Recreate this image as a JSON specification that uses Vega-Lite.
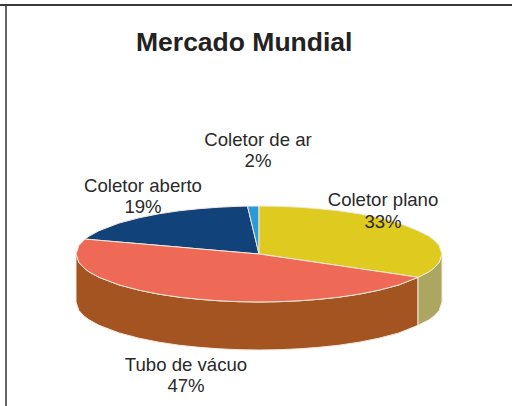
{"$schema":"https://vega.github.io/schema/vega-lite/v6.json","width":512,"height":406,"padding":0,"autosize":{"type":"none"},"background":"white","view":{"stroke":null},
"title":{"text":"Mercado Mundial","font":"Liberation Sans","fontSize":26.5,"fontWeight":"bold","color":"#222222","anchor":"start","frame":"group","offset":0,"dx":136,"dy":77,"baseline":"alphabetic"},
"datasets":{
"outline":[
{"part":"Parede tubo","x":76,"top":254,"bottom":302},{"part":"Parede tubo","x":79,"top":262.7,"bottom":310.7},{"part":"Parede tubo","x":84,"top":268,"bottom":316},{"part":"Parede tubo","x":89,"top":271.8,"bottom":319.8},{"part":"Parede tubo","x":99,"top":277.3,"bottom":325.3},{"part":"Parede tubo","x":119,"top":284.9,"bottom":332.9},{"part":"Parede tubo","x":139,"top":290.2,"bottom":338.2},{"part":"Parede tubo","x":159,"top":294.2,"bottom":342.2},{"part":"Parede tubo","x":179,"top":297.2,"bottom":345.2},{"part":"Parede tubo","x":199,"top":299.3,"bottom":347.3},{"part":"Parede tubo","x":219,"top":300.8,"bottom":348.8},{"part":"Parede tubo","x":239,"top":301.7,"bottom":349.7},{"part":"Parede tubo","x":259,"top":302,"bottom":350},{"part":"Parede tubo","x":279,"top":301.7,"bottom":349.7},{"part":"Parede tubo","x":299,"top":300.8,"bottom":348.8},{"part":"Parede tubo","x":319,"top":299.3,"bottom":347.3},{"part":"Parede tubo","x":339,"top":297.2,"bottom":345.2},{"part":"Parede tubo","x":359,"top":294.2,"bottom":342.2},{"part":"Parede tubo","x":379,"top":290.2,"bottom":338.2},{"part":"Parede tubo","x":399,"top":284.9,"bottom":332.9},{"part":"Parede tubo","x":418,"top":277.3,"bottom":325.3},
{"part":"Parede plano","x":418,"top":277.3,"bottom":325.3},{"part":"Parede plano","x":429,"top":271.8,"bottom":319.8},{"part":"Parede plano","x":434,"top":268,"bottom":316},{"part":"Parede plano","x":439,"top":262.7,"bottom":310.7},{"part":"Parede plano","x":442,"top":254,"bottom":302},
{"part":"Coletor aberto","x":85,"top":239.1,"bottom":239.1},{"part":"Coletor aberto","x":89,"top":236.2,"bottom":239.4},{"part":"Coletor aberto","x":99,"top":230.7,"bottom":240.3},{"part":"Coletor aberto","x":119,"top":223.1,"bottom":242},{"part":"Coletor aberto","x":139,"top":217.8,"bottom":243.7},{"part":"Coletor aberto","x":159,"top":213.8,"bottom":245.4},{"part":"Coletor aberto","x":179,"top":210.8,"bottom":247.1},{"part":"Coletor aberto","x":199,"top":208.7,"bottom":248.9},{"part":"Coletor aberto","x":219,"top":207.2,"bottom":250.6},{"part":"Coletor aberto","x":239,"top":206.3,"bottom":252.3},{"part":"Coletor aberto","x":247.5,"top":206.1,"bottom":253},{"part":"Coletor aberto","x":259,"top":254,"bottom":254},
{"part":"Coletor de ar","x":247.5,"top":206.1,"bottom":206.1},{"part":"Coletor de ar","x":259,"top":206,"bottom":254},
{"part":"Coletor plano","x":259,"top":206,"bottom":254},{"part":"Coletor plano","x":279,"top":206.3,"bottom":256.9},{"part":"Coletor plano","x":299,"top":207.2,"bottom":259.8},{"part":"Coletor plano","x":319,"top":208.7,"bottom":262.7},{"part":"Coletor plano","x":339,"top":210.8,"bottom":265.6},{"part":"Coletor plano","x":359,"top":213.8,"bottom":268.6},{"part":"Coletor plano","x":379,"top":217.8,"bottom":271.5},{"part":"Coletor plano","x":399,"top":223.1,"bottom":274.4},{"part":"Coletor plano","x":418,"top":230.7,"bottom":277.3},{"part":"Coletor plano","x":429,"top":236.2,"bottom":271.8},{"part":"Coletor plano","x":434,"top":240,"bottom":268},{"part":"Coletor plano","x":439,"top":245.3,"bottom":262.7},{"part":"Coletor plano","x":442,"top":254,"bottom":254},
{"part":"Tubo de vácuo","x":76,"top":254,"bottom":254},{"part":"Tubo de vácuo","x":79,"top":245.3,"bottom":262.7},{"part":"Tubo de vácuo","x":85,"top":239.1,"bottom":268.9},{"part":"Tubo de vácuo","x":89,"top":239.4,"bottom":271.8},{"part":"Tubo de vácuo","x":99,"top":240.3,"bottom":277.3},{"part":"Tubo de vácuo","x":119,"top":242,"bottom":284.9},{"part":"Tubo de vácuo","x":139,"top":243.7,"bottom":290.2},{"part":"Tubo de vácuo","x":159,"top":245.4,"bottom":294.2},{"part":"Tubo de vácuo","x":179,"top":247.1,"bottom":297.2},{"part":"Tubo de vácuo","x":199,"top":248.9,"bottom":299.3},{"part":"Tubo de vácuo","x":219,"top":250.6,"bottom":300.8},{"part":"Tubo de vácuo","x":239,"top":252.3,"bottom":301.7},{"part":"Tubo de vácuo","x":259,"top":254,"bottom":302},{"part":"Tubo de vácuo","x":279,"top":256.9,"bottom":301.7},{"part":"Tubo de vácuo","x":299,"top":259.8,"bottom":300.8},{"part":"Tubo de vácuo","x":319,"top":262.7,"bottom":299.3},{"part":"Tubo de vácuo","x":339,"top":265.6,"bottom":297.2},{"part":"Tubo de vácuo","x":359,"top":268.6,"bottom":294.2},{"part":"Tubo de vácuo","x":379,"top":271.5,"bottom":290.2},{"part":"Tubo de vácuo","x":399,"top":274.4,"bottom":284.9},{"part":"Tubo de vácuo","x":418,"top":277.3,"bottom":277.3}
],
"labels":[
{"name":"Coletor plano","share":"33%","x":383,"nameY":200,"shareY":222},
{"name":"Tubo de vácuo","share":"47%","x":186,"nameY":365,"shareY":386},
{"name":"Coletor aberto","share":"19%","x":143,"nameY":186,"shareY":207},
{"name":"Coletor de ar","share":"2%","x":258,"nameY":140,"shareY":161}
],
"frame":[
{"side":"left","x":6,"x2":6,"y":4,"y2":406},
{"side":"top","x":0,"x2":512,"y":5,"y2":5}
]},
"encoding":{},
"layer":[
{"data":{"name":"frame"},"mark":{"type":"rule","strokeWidth":2},"encoding":{
"x":{"field":"x","type":"quantitative","scale":{"domain":[0,512],"nice":false,"zero":false},"axis":null},"x2":{"field":"x2"},
"y":{"field":"y","type":"quantitative","scale":{"domain":[406,0],"nice":false,"zero":false},"axis":null},"y2":{"field":"y2"},
"color":{"field":"side","type":"nominal","legend":null,"scale":{"domain":["left","top"],"range":["#666666","#3a3a3a"]}}}},
{"data":{"name":"outline"},"mark":{"type":"area","stroke":"#f3e9dc","strokeWidth":1,"interpolate":"linear"},"encoding":{
"x":{"field":"x","type":"quantitative","scale":{"domain":[0,512],"nice":false,"zero":false},"axis":null},
"y":{"field":"top","type":"quantitative","scale":{"domain":[406,0],"nice":false,"zero":false},"axis":null,"stack":null},"y2":{"field":"bottom"},
"fill":{"field":"part","type":"nominal","legend":null,"sort":null,"scale":{"domain":["Parede tubo","Parede plano","Coletor aberto","Coletor de ar","Coletor plano","Tubo de vácuo"],"range":["#A35420","#ABA660","#12427A","#2A9BD8","#DFCB1F","#EE6A56"]}}}},
{"data":{"name":"labels"},"mark":{"type":"text","font":"Liberation Sans","fontSize":18.6,"color":"#2a2a2a","align":"center","baseline":"middle"},"encoding":{
"x":{"field":"x","type":"quantitative","scale":{"domain":[0,512],"nice":false,"zero":false},"axis":null},
"y":{"field":"nameY","type":"quantitative","scale":{"domain":[406,0],"nice":false,"zero":false},"axis":null},
"text":{"field":"name"}}},
{"data":{"name":"labels"},"mark":{"type":"text","font":"Liberation Sans","fontSize":18.6,"color":"#2a2a2a","align":"center","baseline":"middle"},"encoding":{
"x":{"field":"x","type":"quantitative","scale":{"domain":[0,512],"nice":false,"zero":false},"axis":null},
"y":{"field":"shareY","type":"quantitative","scale":{"domain":[406,0],"nice":false,"zero":false},"axis":null},
"text":{"field":"share"}}}
]}
